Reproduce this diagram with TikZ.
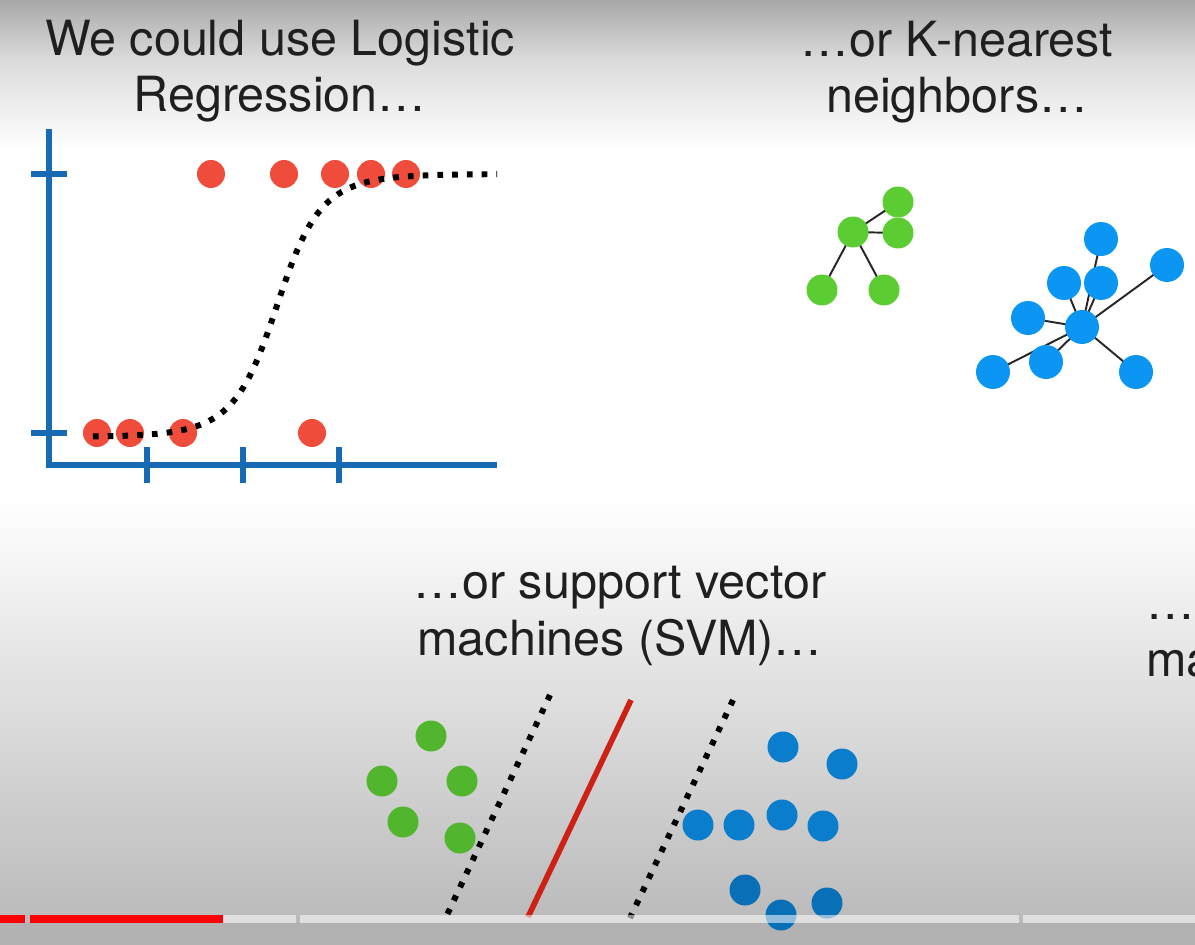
\documentclass[tikz,border=0pt]{standalone}
\usepackage{fontspec}
\setmainfont{TeX Gyre Heros}
\usepackage{tikz}
\usetikzlibrary{backgrounds}
\definecolor{axisblue}{rgb}{0.09, 0.42, 0.71}
\definecolor{dotred}{rgb}{0.94, 0.30, 0.23}
\definecolor{knngreen}{rgb}{0.36, 0.80, 0.20}
\definecolor{knnblue}{rgb}{0.04, 0.59, 0.95}
\definecolor{svmgreen}{rgb}{0.32, 0.71, 0.18}
\definecolor{svmblue}{rgb}{0.04, 0.49, 0.80}
\definecolor{hyperred}{rgb}{0.80, 0.13, 0.08}
\tikzset{
  caption/.style={
    align=center,
    inner sep=0pt,
    text=black!88,
    font=\fontsize{27.6}{32}\selectfont
  },
  reddot/.style={
    circle,
    fill=dotred,
    inner sep=0pt,
    minimum size=.56cm
  },
  gdot/.style={
    circle,
    fill=knngreen,
    inner sep=0pt,
    minimum size=.62cm
  },
  bdot/.style={
    circle,
    fill=knnblue,
    inner sep=0pt,
    minimum size=.68cm
  },
  axis/.style={
    axisblue,
    line width=3.3pt
  },
  link/.style={
    black!85,
    line width=1.1pt
  },
  margin/.style={
    black,
    line width=3.4pt,
    dash pattern=on 3.2pt off 5.2pt
  }
}

\begin{document}
\begin{tikzpicture}[x=.02cm, y=-.02cm]
\useasboundingbox (0,0) rectangle (1195,945);

% video background
\begin{scope}[on background layer]
\shade[top color=black!34, bottom color=black!14] (0,0) rectangle (1195,60);
\shade[top color=black!14, bottom color=white] (0,60) rectangle (1195,150);
\fill[white] (0,150) rectangle (1195,500);
\shade[top color=white, bottom color=black!27] (0,500) rectangle (1195,922);
\fill[black!30] (0,922) rectangle (1195,945);
\end{scope}

% captions
\node[caption, anchor=base] (lr) at (280,112) {We could use Logistic\\Regression…};
\node[caption, anchor=base] (knn) at (957,113) {…or K-nearest\\neighbors…};
\node[caption, anchor=base] (svm) at (620,655) {…or support vector\\machines (SVM)…};
\node[caption, anchor=base west, align=left] (more) at (1146,676) {…a\\ma};

% logistic regression
\draw[axis] (49,129) |- (497,465);
\draw[axis] (31,174) -- (67,174);
\draw[axis] (31,433) -- (67,433);
\draw[axis] (147,447) -- (147,483);
\draw[axis] (243,447) -- (243,483);
\draw[axis] (339,447) -- (339,483);

\node[reddot] (r1) at (211,174) {};
\node[reddot] (r2) at (284,174) {};
\node[reddot] (r3) at (335,174) {};
\node[reddot] (r4) at (371,174) {};
\node[reddot] (r5) at (406,174) {};
\node[reddot] (r6) at (97,433) {};
\node[reddot] (r7) at (130,433) {};
\node[reddot] (r8) at (183,433) {};
\node[reddot] (r9) at (312,433) {};

\draw[margin] plot[domain=93:497, samples=100]
  (\x, {437-263*(0.6/(1+exp(min(8,(277-\x)/18)))+0.4/(1+exp(min(8,(277-\x)/34))))});

% k-nearest neighbors
\node[gdot] (g0) at (853,232) {};
\node[gdot] (g1) at (898,202) {};
\node[gdot] (g2) at (898,233) {};
\node[gdot] (g3) at (822,290) {};
\node[gdot] (g4) at (884,290) {};

\node[bdot] (b0) at (1082,327) {};
\node[bdot] (b1) at (1101,239) {};
\node[bdot] (b2) at (1167,265) {};
\node[bdot] (b3) at (1064,283) {};
\node[bdot] (b4) at (1101,283) {};
\node[bdot] (b5) at (1028,318) {};
\node[bdot] (b6) at (1046,362) {};
\node[bdot] (b7) at (993,372) {};
\node[bdot] (b8) at (1136,372) {};

\begin{scope}[on background layer]
\draw[link] (g0.center) -- (g1.center);
\draw[link] (g0.center) -- (g2.center);
\draw[link] (g0.center) -- (g3.center);
\draw[link] (g0.center) -- (g4.center);
\draw[link] (b0.center) -- (b1.center);
\draw[link] (b0.center) -- (b2.center);
\draw[link] (b0.center) -- (b3.center);
\draw[link] (b0.center) -- (b4.center);
\draw[link] (b0.center) -- (b5.center);
\draw[link] (b0.center) -- (b6.center);
\draw[link] (b0.center) -- (b7.center);
\draw[link] (b0.center) -- (b8.center);
\end{scope}

% support vector machines
\node[gdot, fill=svmgreen] (s1) at (431,736) {};
\node[gdot, fill=svmgreen] (s2) at (382,781) {};
\node[gdot, fill=svmgreen] (s3) at (462,781) {};
\node[gdot, fill=svmgreen] (s4) at (403,822) {};
\node[gdot, fill=svmgreen] (s5) at (460,838) {};

\node[gdot, fill=svmblue] (t1) at (783,747) {};
\node[gdot, fill=svmblue] (t2) at (842,764) {};
\node[gdot, fill=svmblue] (t3) at (698,825) {};
\node[gdot, fill=svmblue] (t4) at (739,825) {};
\node[gdot, fill=svmblue] (t5) at (782,815) {};
\node[gdot, fill=svmblue] (t6) at (823,826) {};
\node[gdot, fill=svmblue!90!black] (t7) at (745,890) {};
\node[gdot, fill=svmblue!90!black] (t8) at (781,915) {};
\node[gdot, fill=svmblue!90!black] (t9) at (827,903) {};

\coordinate (m1a) at (550,695);
\coordinate (m1b) at (447,915);
\coordinate (ha) at (631,700);
\coordinate (hb) at (528,917);
\coordinate (m2a) at (733,700);
\coordinate (m2b) at (630,918);
\draw[margin] (m1a) -- (m1b);
\draw[hyperred, line width=3.2pt] (ha) -- (hb);
\draw[margin] (m2a) -- (m2b);

% progress bar
\fill[white, opacity=.55] (223,915) rectangle (296,922.5);
\fill[white, opacity=.55] (300,915) rectangle (1019,922.5);
\fill[white, opacity=.55] (1023,915) rectangle (1195,922.5);
\fill[red] (0,915) rectangle (25,922.5);
\fill[red] (30,915) rectangle (223,922.5);
\end{tikzpicture}
\end{document}
